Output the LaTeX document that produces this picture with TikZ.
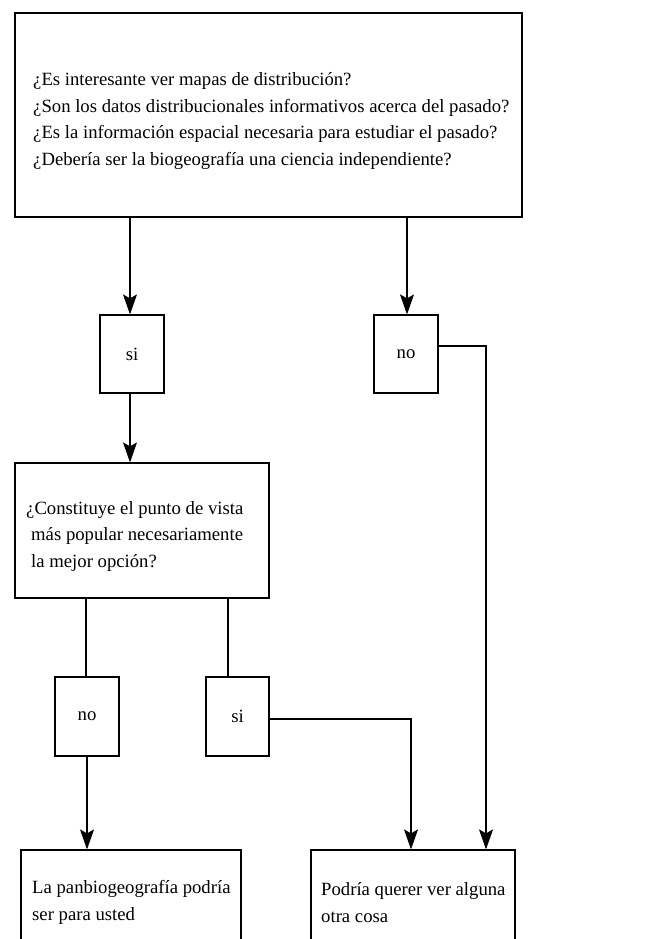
\documentclass[tikz,border=0pt]{standalone}
\usepackage{fontspec}
\setmainfont{Liberation Serif}
\usetikzlibrary{arrows.meta}
\begin{document}
\begin{tikzpicture}[x=1pt,y=-1pt,
  box/.style={draw,line width=1.2pt,rectangle,inner sep=0pt,font=\fontsize{18.7}{22}\selectfont},
  lab/.style={inner sep=0pt,align=left,anchor=west,font=\fontsize{18.7}{26.5}\selectfont},
  conn/.style={line width=1.1pt},
  arr/.style={conn,-{Stealth[length=20pt,width=14pt,inset=4pt]}}]
\useasboundingbox (0,0) rectangle (657,939);
\clip (0,0) rectangle (657,939);
\fill[white] (0,0) rectangle (657,939);
% nodes
\node[box,minimum width=507pt,minimum height=204pt] (top) at (268.5,115) {};
\node[lab] (toptext) at (33,121) {¿Es interesante ver mapas de distribución?\\¿Son los datos distribucionales informativos acerca del pasado?\\¿Es la información espacial necesaria para estudiar el pasado?\\¿Debería  ser la biogeografía una ciencia independiente?};
\node[box,minimum width=64pt,minimum height=78pt] (si1) at (132,354) {si};
\node[box,minimum width=64pt,minimum height=78pt] (no1) at (406,354) {no};
\node[box,minimum width=254pt,minimum height=135pt] (q2) at (142,530.5) {};
\node[lab] (q2text) at (26,536) {¿Constituye el punto de vista\\\hspace*{5pt}más popular necesariamente\\\hspace*{5pt}la mejor opción?};
\node[box,minimum width=64pt,minimum height=79pt] (no2) at (87,716.5) {no};
\node[box,minimum width=63pt,minimum height=79pt] (si2) at (237.5,716.5) {si};
\node[box,minimum width=220pt,minimum height=120pt] (res1) at (131,910) {};
\node[lab] (res1text) at (32,902.5) {La panbiogeografía podría\\ser para usted};
\node[box,minimum width=204pt,minimum height=120pt] (res2) at (413,910) {};
\node[lab] (res2text) at (321,902.5) {Podría querer ver alguna\\otra cosa};
% coordinates for connectors
\coordinate (a1) at (top.south -| 130,0);
\coordinate (a2) at (si1.north -| 130,0);
\coordinate (h1) at (si1.south -| 130,0);
\coordinate (h2) at (q2.north -| 130,0);
\coordinate (b1) at (top.south -| 407,0);
\coordinate (b2) at (no1.north -| 407,0);
\coordinate (c1) at (no1.east |- 0,346);
\coordinate (c2) at (486,346);
\coordinate (c3) at (res2.north -| 486,0);
\coordinate (d1) at (q2.south -| 86,0);
\coordinate (d2) at (no2.north -| 86,0);
\coordinate (e1) at (q2.south -| 228,0);
\coordinate (e2) at (si2.north -| 228,0);
\coordinate (f1) at (si2.east |- 0,719);
\coordinate (f2) at (411,719);
\coordinate (f3) at (res2.north -| 411,0);
\coordinate (g1) at (no2.south -| 87,0);
\coordinate (g2) at (res1.north -| 87,0);
% connectors
\draw[arr] (a1) -- (a2);
\draw[arr] (b1) -- (b2);
\draw[arr] (h1) -- (h2);
\draw[conn] (d1) -- (d2);
\draw[conn] (e1) -- (e2);
\draw[arr] (g1) -- (g2);
\draw[arr] (f1) -- (f2) -- (f3);
\draw[arr] (c1) -- (c2) -- (c3);
\end{tikzpicture}
\end{document}
